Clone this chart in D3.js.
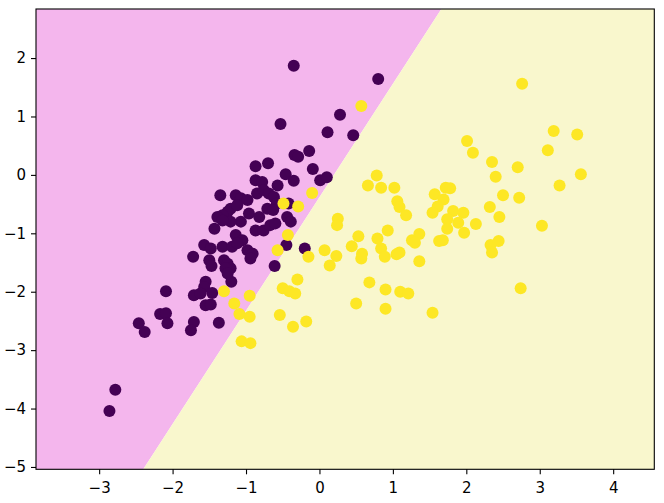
<!DOCTYPE html>
<html lang="en">
<head>
  <meta charset="utf-8">
  <title>Decision boundary</title>
  <script src="https://d3js.org/d3.v7.min.js"></script>
  <style>
    body { margin: 0; background: #fff; }
    .tick text { font-family: "DejaVu Sans", sans-serif; font-size: 15px; fill: #000; }
  </style>
</head>
<body>
<script>
// class 0 (purple) points
var class0X = [-0.35, 0.80, 0.28, -0.53, 0.11, 0.46, -0.14, -0.34, -0.29, -0.87, -0.70, -0.09, -0.46, -0.35, 0.01, 0.10,
  -0.87, -0.78, -0.57, -1.35, -1.14, -1.07, -0.98, -0.85, -0.76, -0.69, -0.62, -0.58, -0.42, -1.21, -1.25, -1.32,
  -1.39, -1.12, -0.96, -0.82, -0.71, -0.63, -0.44, -0.39, -1.07, -1.43, -1.21, -0.87, -0.76, -0.67, -0.60, -1.14,
  -1.05, -1.57, -1.48, -1.32, -1.19, -1.12, -0.98, -0.91, -0.94, -1.72, -1.50, -1.30, -1.25, -1.21, -1.28, -0.45,
  -0.20, -0.61, -1.20, -1.55, -1.57, -1.71, -1.62, -1.46, -1.55, -1.48, -2.09, -2.17, -2.09, -2.07, -1.71, -1.75,
  -1.37, -2.46, -2.38, -2.78, -2.86, -1.47, -1.25, -1.32];
var class0Y = [1.87, 1.64, 1.03, 0.87, 0.73, 0.68, 0.41, 0.34, 0.31, 0.15, 0.20, 0.10, 0.01, -0.10, -0.09, -0.04,
  -0.09, -0.12, -0.18, -0.35, -0.35, -0.40, -0.43, -0.32, -0.26, -0.32, -0.38, -0.49, -0.49, -0.58, -0.63, -0.69,
  -0.72, -0.52, -0.66, -0.72, -0.58, -0.60, -0.72, -0.80, -0.80, -0.92, -0.80, -0.95, -0.95, -0.86, -0.83, -1.03,
  -1.12, -1.20, -1.26, -1.23, -1.23, -1.17, -1.29, -1.35, -1.43, -1.40, -1.46, -1.46, -1.52, -1.60, -1.60, -1.20,
  -1.26, -1.56, -1.83, -1.83, -1.92, -2.06, -2.03, -2.02, -2.23, -2.22, -1.99, -2.38, -2.37, -2.54, -2.52, -2.66,
  -2.53, -2.54, -2.69, -3.68, -4.04, -1.56, -1.69, -0.78];

// class 1 (yellow) points
var class1X = [0.57, 2.76, 3.19, 3.51, 2.01, 2.09, 3.11, 2.35, 2.70, 2.40, 3.56, 3.27, 1.72, 1.78, 1.57, 2.50,
  2.72, 1.69, 2.32, 1.61, 1.82, 1.96, 1.54, 2.45, 1.74, 1.89, 2.13, 1.74, 3.03, 1.97, 1.63, 1.68,
  2.33, 2.44, 2.35, 2.74, 1.54, 0.78, 0.66, 0.84, 1.02, -0.10, -0.29, -0.49, 1.06, 1.09, 1.18, 0.25,
  0.24, 0.93, 0.53, 0.79, 0.44, 0.58, 0.57, 0.84, 0.89, 1.05, 1.09, 1.26, 1.36, 1.30, 1.36, 0.07,
  0.23, 0.14, -0.15, -0.43, -0.57, -0.30, -0.50, -0.41, -0.33, 0.68, 0.90, 1.10, 1.21, 0.50, 0.90, -0.18,
  -0.36, -0.54, -1.30, -0.95, -1.16, -1.09, -0.95, -1.06, -0.94];
var class1Y = [1.18, 1.56, 0.75, 0.69, 0.58, 0.38, 0.42, 0.22, 0.13, -0.03, 0.01, -0.18, -0.22, -0.23, -0.33, -0.35,
  -0.39, -0.42, -0.55, -0.54, -0.62, -0.65, -0.65, -0.72, -0.76, -0.82, -0.84, -0.92, -0.87, -0.99, -1.13, -1.12,
  -1.20, -1.13, -1.33, -1.94, -2.36, -0.01, -0.18, -0.22, -0.22, -0.31, -0.54, -0.49, -0.45, -0.55, -0.69, -0.75,
  -0.86, -0.95, -1.05, -1.09, -1.22, -1.35, -1.43, -1.26, -1.40, -1.36, -1.33, -1.12, -1.01, -1.16, -1.48, -1.29,
  -1.39, -1.55, -1.40, -1.03, -1.29, -1.79, -1.94, -1.99, -2.03, -1.84, -1.96, -2.00, -2.03, -2.20, -2.29, -2.51,
  -2.60, -2.40, -1.99, -2.07, -2.20, -2.38, -2.43, -2.85, -2.88];

// decision boundary y = slope * x + intercept
var boundarySlope = 1.941;
var boundaryIntercept = -0.382;

var xTicks = [-3, -2, -1, 0, 1, 2, 3, 4];
var yTicks = [-5, -4, -3, -2, -1, 0, 1, 2];

var width = 664, height = 503;
var margin = {left: 36, top: 9, right: 9.7, bottom: 33.7};

var x = d3.scaleLinear().domain([-3.86, 4.56]).range([margin.left, width - margin.right]);
var y = d3.scaleLinear().domain([-5.04, 2.84]).range([height - margin.bottom, margin.top]);

var svg = d3.select("body").append("svg")
  .attr("width", width)
  .attr("height", height);

svg.append("clipPath").attr("id", "plot-clip")
  .append("rect")
  .attr("x", x.range()[0]).attr("y", y.range()[1])
  .attr("width", x.range()[1] - x.range()[0])
  .attr("height", y.range()[0] - y.range()[1]);

var xd = x.domain(), yd = y.domain();
function lineY(v) { return boundarySlope * v + boundaryIntercept; }

var regions = svg.append("g").attr("clip-path", "url(#plot-clip)");

// pink region: above the boundary
regions.append("path")
  .attr("d", d3.line()([
    [x(xd[0]), y(yd[1] + 10)],
    [x(xd[1]), y(yd[1] + 10)],
    [x(xd[1]), y(lineY(xd[1]))],
    [x(xd[0]), y(lineY(xd[0]))]
  ]) + "Z")
  .attr("fill", "#f4b6ed");

// yellow region: below the boundary
regions.append("path")
  .attr("d", d3.line()([
    [x(xd[0]), y(lineY(xd[0]))],
    [x(xd[1]), y(lineY(xd[1]))],
    [x(xd[1]), y(yd[0] - 10)],
    [x(xd[0]), y(yd[0] - 10)]
  ]) + "Z")
  .attr("fill", "#f9f7cd");

var pts0 = class0X.map(function(v, i) { return {x: v, y: class0Y[i], c: 0}; });
var pts1 = class1X.map(function(v, i) { return {x: v, y: class1Y[i], c: 1}; });
var color = function(c) { return c === 0 ? "#440154" : "#fde725"; };

regions.selectAll("circle.pt")
  .data(pts0.concat(pts1))
  .enter()
  .append("circle")
  .attr("class", "pt")
  .attr("cx", function(d) { return x(d.x); })
  .attr("cy", function(d) { return y(d.y); })
  .attr("r", 6)
  .attr("fill", function(d) { return color(d.c); });

// axes
var xAxis = svg.append("g")
  .attr("transform", "translate(0," + y.range()[0] + ")")
  .call(d3.axisBottom(x).tickValues(xTicks).tickSize(5).tickPadding(5).tickFormat(d3.format("d")));
var yAxis = svg.append("g")
  .attr("transform", "translate(" + x.range()[0] + ",0)")
  .call(d3.axisLeft(y).tickValues(yTicks).tickSize(5).tickPadding(5).tickFormat(d3.format("d")));

[xAxis, yAxis].forEach(function(a) {
  a.select(".domain").remove();
  a.selectAll(".tick line").attr("stroke", "#000").attr("stroke-width", 1.1);
  a.selectAll(".tick text").attr("font-family", null).attr("font-size", null);
});
xAxis.selectAll(".tick text").attr("dy", "0.9em");

// frame
svg.append("rect")
  .attr("x", x.range()[0]).attr("y", y.range()[1])
  .attr("width", x.range()[1] - x.range()[0])
  .attr("height", y.range()[0] - y.range()[1])
  .attr("fill", "none")
  .attr("stroke", "#000")
  .attr("stroke-width", 1.1);
</script>
</body>
</html>
